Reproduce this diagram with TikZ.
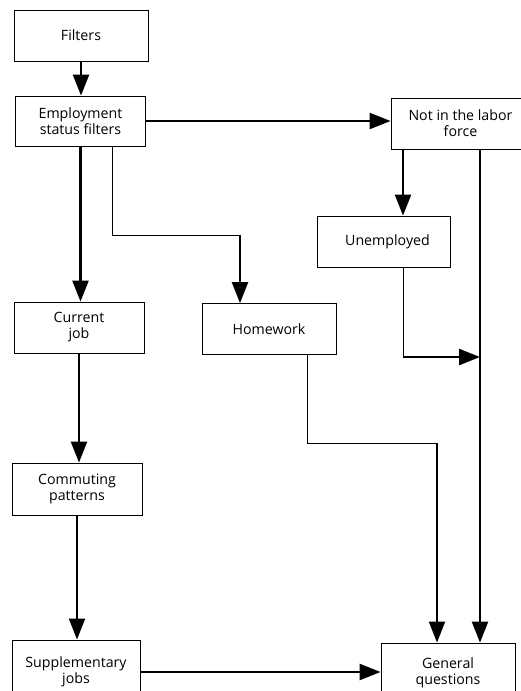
\documentclass[tikz,border=0pt]{standalone}
\usepackage{fontspec}
\setmainfont{Open Sans}
\usetikzlibrary{arrows.meta}
\tikzset{
  box/.style={draw, line width=0.9pt, inner sep=0pt, align=center,
    font=\fontsize{14.2}{16}\selectfont},
  thk/.style={line width=2.5pt},
  thn/.style={line width=0.9pt},
  tip/.style={-{Triangle[length=21pt,width=16pt]}}
}
\begin{document}
\begin{tikzpicture}[x=1pt,y=-1pt]
\useasboundingbox (0,0) rectangle (521,691);
\clip (0,0) rectangle (521,691);
\node[box, minimum width=134pt, minimum height=51pt] (filters) at (81,35.5) {Filters};
\node[box, minimum width=130pt, minimum height=50pt] (emp) at (80.5,121) {Employment\\status filters};
\node[box, minimum width=139pt, minimum height=51pt] (nilf) at (460.5,123.5) {Not in the labor\\force};
\node[box, minimum width=133pt, minimum height=51pt] (unemp) at (383.5,241.5) {\hspace*{8pt}Unemployed};
\node[box, minimum width=130pt, minimum height=51pt] (current) at (79,327.5) {Current\\job};
\node[box, minimum width=134pt, minimum height=51pt] (homework) at (269,329) {Homework};
\node[box, minimum width=130pt, minimum height=52pt] (commuting) at (77,489) {Commuting\\patterns};
\node[box, minimum width=128pt, minimum height=64pt] (supp) at (76,672) {Supplementary\\jobs};
\node[box, minimum width=134pt, minimum height=60pt] (general) at (448,673) {General\\questions};

\draw[thk,tip] (filters.south) -- (filters.south |- emp.north);
\draw[thk,tip] (emp.east) -- (emp.east -| nilf.west);
\draw[thk,tip] (emp.south) -- (emp.south |- current.north);
\coordinate (eb) at ([xshift=31.5pt]emp.south);
\coordinate (hwTurn) at (240,235);
\draw[thn] (eb) |- (hwTurn);
\draw[thk,tip] (hwTurn) -- (hwTurn |- homework.north);
\coordinate (nu) at ([xshift=-57.5pt]nilf.south);
\draw[thk,tip] (nu) -- (nu |- unemp.north);
\coordinate (nr) at ([xshift=19.5pt]nilf.south);
\draw[thk,tip] (nr) -- (nr |- general.north);
\coordinate (us) at ([xshift=19.5pt]unemp.south);
\coordinate (ut) at (403,357);
\draw[thn] (us) -- (ut);
\draw[thk,tip] (ut) -- (ut -| nr);
\coordinate (hs) at ([xshift=38pt]homework.south);
\coordinate (ht) at (437,443);
\draw[thn] (hs) |- (ht);
\draw[line width=2pt,tip] (ht) -- (ht |- general.north);
\draw[thk,tip] (current.south) -- (current.south |- commuting.north);
\draw[line width=2pt,tip] (commuting.south) -- (commuting.south |- supp.north);
\draw[thk,tip] (supp.east) -- (supp.east -| general.west);
\end{tikzpicture}
\end{document}
